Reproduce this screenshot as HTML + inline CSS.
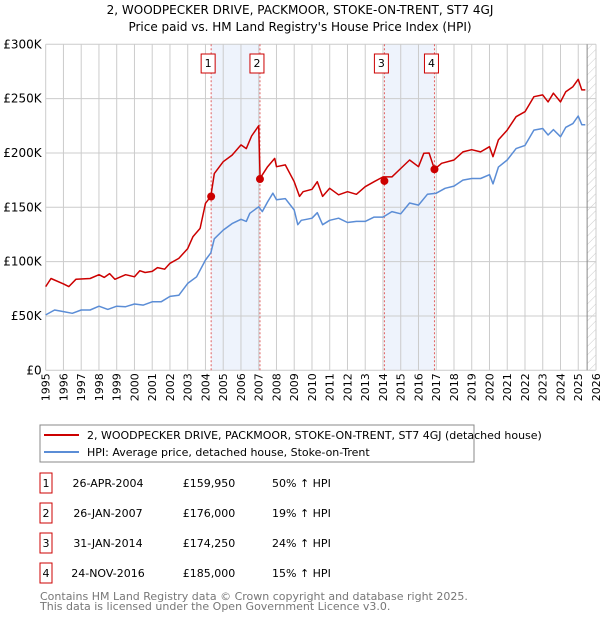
<!DOCTYPE html>
<html><head><meta charset="utf-8"><style>
body{margin:0;background:#fff;font-family:"Liberation Sans","DejaVu Sans",sans-serif;}
svg text{font-family:"DejaVu Sans","Liberation Sans",sans-serif;}
</style></head><body>
<svg id="c" width="600" height="620" xmlns="http://www.w3.org/2000/svg">
<text x="300" y="14" text-anchor="middle" font-size="12">2, WOODPECKER DRIVE, PACKMOOR, STOKE-ON-TRENT, ST7 4GJ</text>
<text x="300" y="31" text-anchor="middle" font-size="12">Price paid vs. HM Land Registry's House Price Index (HPI)</text>
<g id="plot"></g>
<rect x="40" y="425" width="434" height="37" fill="#fff" stroke="#888"/>
<line x1="44" y1="435" x2="79" y2="435" stroke="#cc0000" stroke-width="2"/>
<text x="87" y="439" font-size="11">2, WOODPECKER DRIVE, PACKMOOR, STOKE-ON-TRENT, ST7 4GJ (detached house)</text>
<line x1="44" y1="452" x2="79" y2="452" stroke="#5b8dd6" stroke-width="2"/>
<text x="87" y="456" font-size="11">HPI: Average price, detached house, Stoke-on-Trent</text>
<g id="tbl" font-size="11"></g>
<text x="40" y="600" font-size="11" fill="#777">Contains HM Land Registry data © Crown copyright and database right 2025.</text>
<text x="40" y="610" font-size="11" fill="#777">This data is licensed under the Open Government Licence v3.0.</text>
</svg>
<script>
const hpiYears=[1995,1995.5,1996,1996.5,1997,1997.5,1998,1998.5,1999,1999.5,2000,2000.5,2001,2001.5,2002,2002.5,2003,2003.5,2004,2004.3,2004.5,2005,2005.5,2006,2006.3,2006.5,2007,2007.2,2007.5,2007.8,2008,2008.5,2009,2009.2,2009.4,2009.7,2010,2010.3,2010.6,2011,2011.5,2012,2012.5,2013,2013.5,2014,2014.5,2015,2015.5,2016,2016.5,2017,2017.5,2018,2018.5,2019,2019.5,2020,2020.2,2020.5,2021,2021.5,2022,2022.5,2023,2023.3,2023.6,2024,2024.3,2024.7,2025,2025.2,2025.4];
const hpiValues=[51,55.5,54,52.5,55.5,55.5,59,56,59,58.5,61,60,63,63,68,69,80,86,101.5,108,121,129,135,139,137,144.5,150.5,146,155,163,157,158,147.5,134,138,139,140,145,134,138,140,136,137,137,141,141,146,144,154,152,162,163,167.5,169.5,175,176.5,176.5,180,171.5,187,193.5,204,207,221,222.5,216.5,221.5,215,223.6,227,234,226,226];
const propYears=[1995,1995.3,1996,1996.3,1996.7,1997.5,1998,1998.3,1998.6,1998.9,1999.5,2000,2000.3,2000.6,2001,2001.3,2001.7,2002,2002.5,2003,2003.3,2003.7,2004,2004.3,2004.5,2005,2005.5,2006,2006.3,2006.6,2007,2007.08,2007.5,2007.9,2008,2008.5,2009,2009.3,2009.5,2010,2010.3,2010.6,2011,2011.5,2012,2012.5,2013,2013.5,2014,2014.5,2015,2015.5,2016,2016.3,2016.6,2016.9,2017.3,2018,2018.5,2019,2019.5,2020,2020.2,2020.5,2021,2021.5,2022,2022.5,2023,2023.3,2023.6,2024,2024.3,2024.7,2025,2025.2,2025.4];
const propValues=[77,84.5,79.5,77,83.7,84.5,88,85.5,89,83.7,88,86,91.7,90,91,94.5,93,98.5,103,112,123,130.6,153.7,160,181,192,198,207.4,204,215.6,225,176.7,187.4,195,187.4,189,173.6,160,164.4,166.6,173.6,160,167.5,161.5,164.4,162,169,173.6,178,178,185.7,193.5,187.4,199.7,200,185,190.5,193.5,201,203,201,205.8,196.6,212,221,233.4,238,251.8,253.4,247,255,247,256.4,261,267.8,258,258];
const saleLabels=["1","2","3","4"];
const saleYears=[2004.32,2007.07,2014.08,2016.9];
const salePrices=[159950,176000,174250,185000];
const saleDates=["26-APR-2004","26-JAN-2007","31-JAN-2014","24-NOV-2016"];
const saleHpi=["50% ↑ HPI","19% ↑ HPI","24% ↑ HPI","15% ↑ HPI"];
const yTicks=[0,50,100,150,200,250,300];
const yTickLabels=["£0","£50K","£100K","£150K","£200K","£250K","£300K"];
const xTicks=[1995,1996,1997,1998,1999,2000,2001,2002,2003,2004,2005,2006,2007,2008,2009,2010,2011,2012,2013,2014,2015,2016,2017,2018,2019,2020,2021,2022,2023,2024,2025,2026];
const dataEnd=2025.5;

const NS="http://www.w3.org/2000/svg";
const X0=45.7,X1=596,Y0=370.3,Y1=44.3;
const xs=y=>X0+(y-1995)/(2026-1995)*(X1-X0);
const ys=v=>Y0-v/300*(Y0-Y1);
const plot=document.getElementById('plot');
function mk(tag,a,p){const e=document.createElementNS(NS,tag);for(const k in a)e.setAttribute(k,a[k]);(p||plot).appendChild(e);return e;}

for(let i=0;i<saleYears.length;i+=2){
 const r=mk('rect',{x:xs(saleYears[i]),y:Y1,width:xs(saleYears[i+1])-xs(saleYears[i]),height:Y0-Y1,fill:'#eef3fc'});
 
 
}
const defs=mk('defs',{});
const pat=mk('pattern',{id:'h',width:6,height:6,patternUnits:'userSpaceOnUse',patternTransform:'rotate(45)'},defs);
mk('line',{x1:0,y1:0,x2:0,y2:6,stroke:'#ccc','stroke-width':1},pat);
const hz=mk('rect',{x:xs(dataEnd),y:Y1,width:X1-xs(dataEnd),height:Y0-Y1,fill:'url(#h)'});


yTicks.forEach((t,i)=>{
 const g=mk('line',{x1:X0,x2:X1,y1:ys(t),y2:ys(t),stroke:'#ccc'});
 
 
 const tx=mk('text',{x:X0-4,y:ys(t)+4,'text-anchor':'end','font-size':12});
 tx.textContent=yTickLabels[i];
 
 
});
xTicks.forEach(t=>{
 const g=mk('line',{x1:xs(t),x2:xs(t),y1:Y1,y2:Y0,stroke:'#ccc'});
 
 
 const tx=mk('text',{x:0,y:0,'text-anchor':'end','font-size':11,transform:`translate(${xs(t)+4},${Y0+3}) rotate(-90)`});
 tx.textContent=t;
 
 
});
const el=mk('line',{x1:xs(dataEnd),x2:xs(dataEnd),y1:Y1,y2:Y0,stroke:'#888'});


saleYears.forEach((s,i)=>{
 const l=mk('line',{x1:xs(s),x2:xs(s),y1:Y1,y2:Y0,stroke:'#e06060','stroke-dasharray':'2,2'});
 
 
 const b=mk('rect',{x:xs(s)-10,y:54,width:14,height:19,fill:'#fff',stroke:'#cc0000'});
 
 
 const t=mk('text',{x:xs(s)-3,y:67,'text-anchor':'middle','font-size':11});
 t.textContent=saleLabels[i];
 
 
});
function line(xa,va,color,name){
 const d=xa.map((x,i)=>(i?'L':'M')+xs(x).toFixed(1)+','+ys(va[i]).toFixed(1)).join('');
 const p=mk('path',{d:d,fill:'none',stroke:color,'stroke-width':1.5,'stroke-linejoin':'round'});
 
 
}
line(hpiYears,hpiValues,'#5b8dd6','hpi-line');
line(propYears,propValues,'#cc0000','property-line');
saleYears.forEach((s,i)=>{
 const c=mk('circle',{cx:xs(s),cy:ys(salePrices[i]/1000),r:4,fill:'#cc0000'});
 
 
});
const tbl=document.getElementById('tbl');
saleLabels.forEach((l,i)=>{
 const y=483+i*30;
 const b=mk('rect',{x:40,y:y-10,width:12,height:20,fill:'#fff',stroke:'#cc0000'},tbl);
 
 
 const cells=[[46,l,'middle'],[108,saleDates[i],'middle'],[209,'£'+salePrices[i].toLocaleString('en-GB'),'middle'],[272,saleHpi[i],'start']];
 cells.forEach(c=>{
  const t=mk('text',{x:c[0],y:y+4,'text-anchor':c[2]},tbl);
  t.textContent=c[1];
  
  
 });
});
</script>
</body></html>
